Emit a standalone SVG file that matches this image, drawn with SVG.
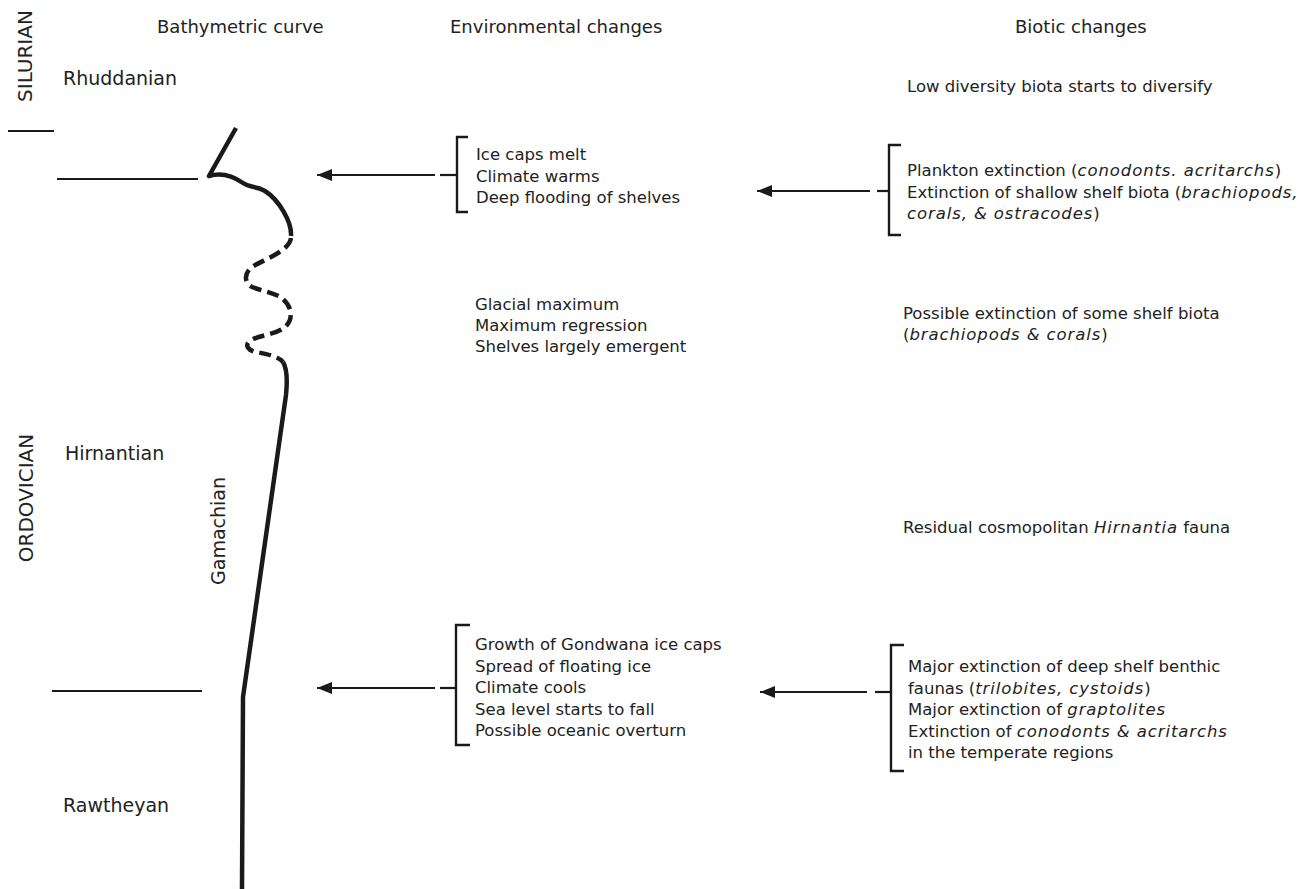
<svg xmlns="http://www.w3.org/2000/svg" width="1312" height="889" viewBox="0 0 1312 889">
<defs>
<style>
text{font-family:"DejaVu Sans","Liberation Sans",sans-serif;fill:#222;}
.hd{font-size:18px;}
.lb{font-size:19px;}
.per{font-size:20px;}
.bd{font-size:16.5px;}
.it{font-style:italic;letter-spacing:0.9px;}
.ln{stroke:#1a1a1a;stroke-width:2.2;fill:none;}
.br{stroke:#1a1a1a;stroke-width:2.4;fill:none;}
.cv{stroke:#1a1a1a;stroke-width:4.5;fill:none;stroke-linejoin:round;}
.cvd{stroke:#1a1a1a;stroke-width:4.5;fill:none;stroke-dasharray:12 6;}
</style>
<marker id="ah" markerUnits="userSpaceOnUse" markerWidth="16" markerHeight="12" refX="15" refY="6" orient="auto">
<path d="M0,0 L15,6 L0,12 Z" fill="#1a1a1a"/>
</marker>
</defs>
<rect width="1312" height="889" fill="#fff"/>

<g id="headers">
<text class="hd" x="157" y="33">Bathymetric curve</text>
<text class="hd" x="450" y="33">Environmental changes</text>
<text class="hd" x="1015" y="33">Biotic changes</text>
</g>

<g id="periods">
<text class="per" transform="translate(32,56) rotate(-90)" text-anchor="middle">SILURIAN</text>
<text class="per" transform="translate(33,498) rotate(-90)" text-anchor="middle">ORDOVICIAN</text>
<line class="ln" x1="8" y1="131" x2="54" y2="131"/>
</g>

<g id="stages">
<text class="lb" x="63" y="85">Rhuddanian</text>
<text class="lb" x="65" y="460">Hirnantian</text>
<text class="lb" x="63" y="812">Rawtheyan</text>
<text class="lb" transform="translate(225,531) rotate(-90)" text-anchor="middle">Gamachian</text>
<line class="ln" x1="57" y1="179" x2="198" y2="179"/>
<line class="ln" x1="52" y1="691" x2="202" y2="691"/>
</g>

<g id="curve">
<path class="cv" d="M236,128 L209,176 C222,172 233,176 243,183 C250,188 256,186 265,191 C279,200 292,222 291,236"/>
<path class="cvd" d="M291,238 C289,252 262,260 252,267 C244,273 244,283 252,287 C262,291 276,293 283,299 C293,308 293,320 285,327 C277,334 262,335 253,339 C244,343 246,350 256,352 C266,354 278,356 283,362"/>
<path class="cv" d="M283,362 C288,370 287,385 286,395 L243,697 L242,889"/>
</g>

<g id="env1">
<path class="br" d="M468,137 H457 V212 H468"/>
<text class="bd" x="476" y="160">Ice caps melt</text>
<text class="bd" x="476" y="181.5">Climate warms</text>
<text class="bd" x="476" y="203">Deep flooding of shelves</text>
</g>

<g id="env2">
<text class="bd" x="475" y="310">Glacial maximum</text>
<text class="bd" x="475" y="331">Maximum regression</text>
<text class="bd" x="475" y="352">Shelves largely emergent</text>
</g>

<g id="env3">
<path class="br" d="M470,625 H456 V745 H470"/>
<text class="bd" x="475" y="650">Growth of Gondwana ice caps</text>
<text class="bd" x="475" y="671.5">Spread of floating ice</text>
<text class="bd" x="475" y="693">Climate cools</text>
<text class="bd" x="475" y="714.5">Sea level starts to fall</text>
<text class="bd" x="475" y="736">Possible oceanic overturn</text>
</g>

<g id="bio0">
<text class="bd" x="907" y="92">Low diversity biota starts to diversify</text>
</g>

<g id="bio1">
<path class="br" d="M901,145 H889 V235 H901"/>
<text class="bd" x="907" y="176">Plankton extinction (<tspan class="it">conodonts. acritarchs</tspan>)</text>
<text class="bd" x="907" y="197.5">Extinction of shallow shelf biota (<tspan class="it">brachiopods,</tspan></text>
<text class="bd" x="907" y="219"><tspan class="it">corals, &amp; ostracodes</tspan>)</text>
</g>

<g id="bio2">
<text class="bd" x="903" y="319">Possible extinction of some shelf biota</text>
<text class="bd" x="903" y="340">(<tspan class="it">brachiopods &amp; corals</tspan>)</text>
</g>

<g id="bio3">
<text class="bd" x="903" y="533">Residual cosmopolitan <tspan class="it">Hirnantia</tspan> fauna</text>
</g>

<g id="bio4">
<path class="br" d="M904,645 H891 V771 H904"/>
<text class="bd" x="908" y="672">Major extinction of deep shelf benthic</text>
<text class="bd" x="908" y="693.5">faunas (<tspan class="it">trilobites, cystoids</tspan>)</text>
<text class="bd" x="908" y="715">Major extinction of <tspan class="it">graptolites</tspan></text>
<text class="bd" x="908" y="736.5">Extinction of <tspan class="it">conodonts &amp; acritarchs</tspan></text>
<text class="bd" x="908" y="758">in the temperate regions</text>
</g>

<g id="connectors">
<line class="ln" x1="435" y1="175" x2="317" y2="175" marker-end="url(#ah)"/>
<line class="ln" x1="440" y1="175" x2="457" y2="175"/>
<line class="ln" x1="870" y1="191" x2="757" y2="191" marker-end="url(#ah)"/>
<line class="ln" x1="877" y1="191" x2="889" y2="191"/>
<line class="ln" x1="435" y1="688" x2="317" y2="688" marker-end="url(#ah)"/>
<line class="ln" x1="440" y1="688" x2="456" y2="688"/>
<line class="ln" x1="867" y1="692" x2="760" y2="692" marker-end="url(#ah)"/>
<line class="ln" x1="875" y1="692" x2="891" y2="692"/>
</g>
</svg>
